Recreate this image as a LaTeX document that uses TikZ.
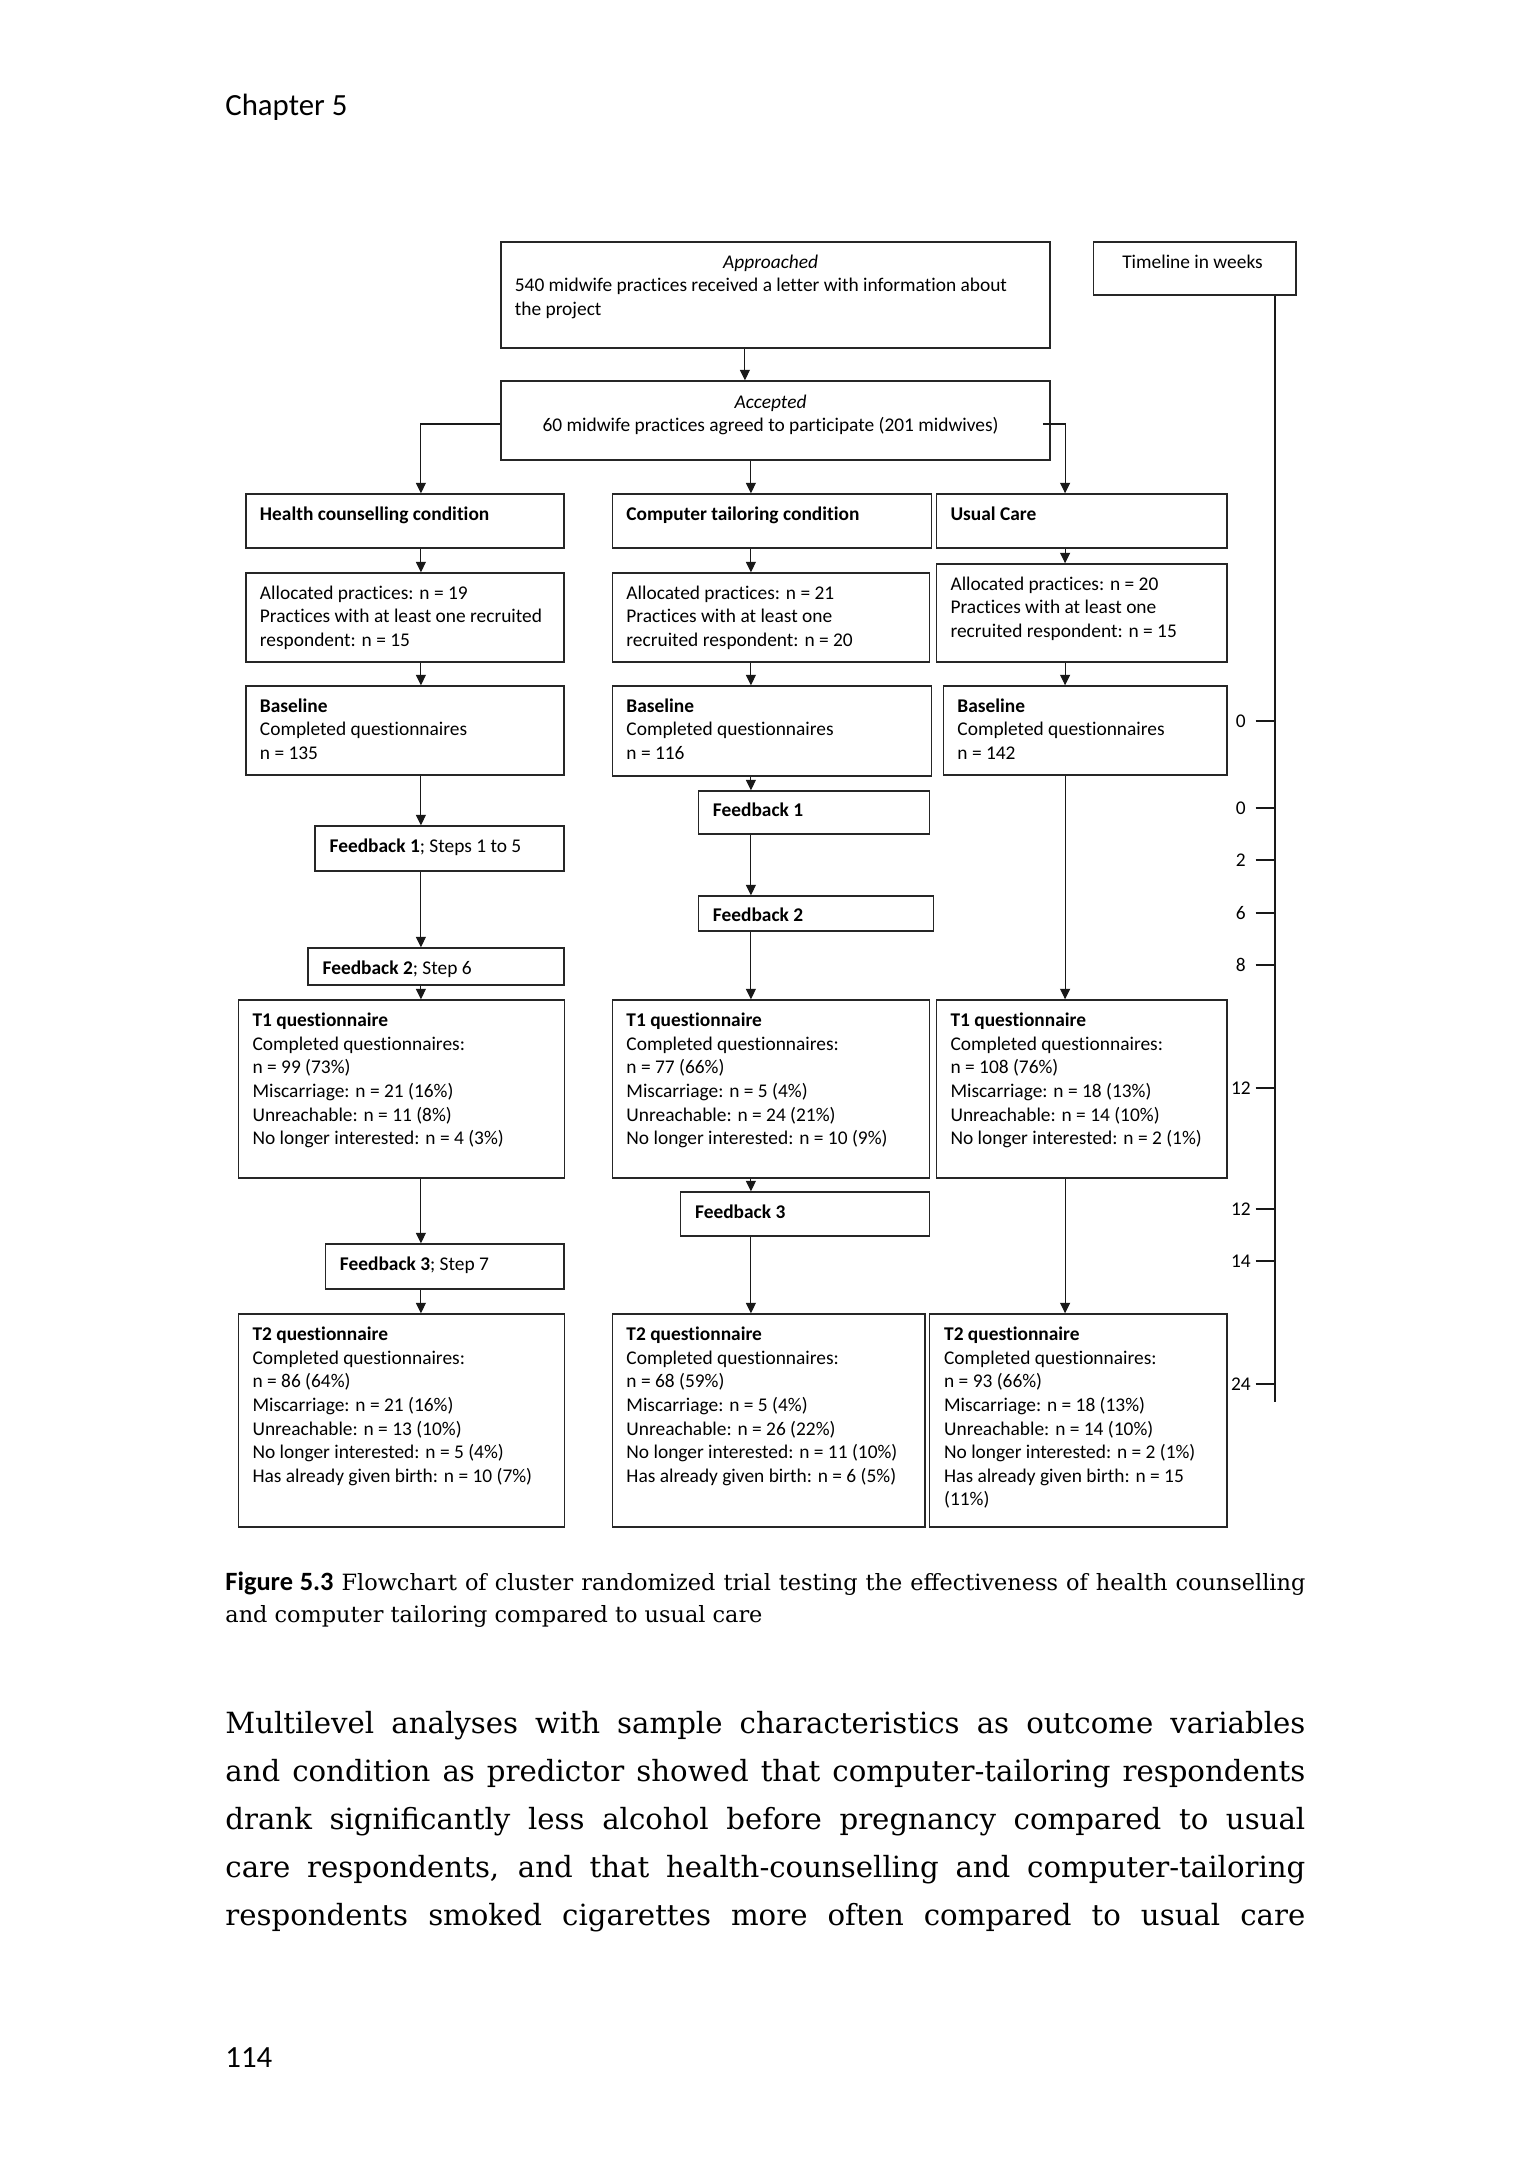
\documentclass[tikz,border=0pt]{standalone}
\usepackage{fontspec}
\setmainfont{Carlito}[Ligatures=NoCommon]
\newfontfamily\bookserif{DejaVu Serif}
\newfontfamily\capsans{Carlito}[Ligatures=NoCommon]
\usetikzlibrary{arrows.meta,fit}
\newcommand\bxfont{\fontsize{9.7}{11.8}\selectfont}
\begin{document}
\begin{tikzpicture}[x=0.5pt,y=-0.5pt,
  box/.style={draw=black!85, line width=0.75pt, inner sep=0pt},
  txt/.style={anchor=north west, inner sep=0pt, align=left, font=\bxfont},
  one/.style={inner sep=0pt, font=\bxfont},
  arr/.style={draw=black!90, line width=0.55pt, -{Triangle[length=5.2pt,width=5pt]}},
  tickline/.style={draw=black!90, line width=0.55pt},
  lbl/.style={inner sep=0pt, font=\bxfont, anchor=center},
  page/.style={inner sep=0pt, anchor=base west}]
\useasboundingbox (0,0) rectangle (1529,2160);
\fill[white] (0,0) rectangle (1529,2160);

% header and page number
\node[page, font=\capsans\fontsize{15.4}{19}\selectfont] (hdr) at (225,115.7) {Chapter 5};
\node[page, font=\capsans\fontsize{15.4}{19}\selectfont] (pnum) at (225,2067) {114};

% column coordinates
\coordinate (colH) at (420.9,0);
\coordinate (colA) at (744.9,0);
\coordinate (colC) at (750.9,0);
\coordinate (colU) at (1065.1,0);
\coordinate (accy) at (0,424);
\coordinate (tlx) at (1275,0);
\coordinate (tlend) at (1275,1402);

% boxes
\node[box, fit={(500.9,242) (1050.2,348)}] (app) {};
\node[box, fit={(1093.7,242) (1296.2,295)}] (tl) {};
\node[box, fit={(500.9,381) (1050.2,460)}] (acc) {};
\node[box, fit={(246,494) (564.1,548)}] (hc) {};
\node[box, fit={(612.5,494) (931.7,548)}] (ct) {};
\node[box, fit={(936.6,494) (1227.1,548)}] (uc) {};
\node[box, fit={(246,573) (564.1,662)}] (ahc) {};
\node[box, fit={(612.5,573) (929.7,662)}] (act) {};
\node[box, fit={(936.6,564) (1227.1,662)}] (auc) {};
\node[box, fit={(246,686) (564.1,775)}] (bhc) {};
\node[box, fit={(612.5,686) (931.7,776)}] (bct) {};
\node[box, fit={(943.5,686) (1227.1,775)}] (buc) {};
\node[box, fit={(315.2,826) (564.1,871)}] (fah) {};
\node[box, fit={(308.2,948) (564.1,985)}] (fbh) {};
\node[box, fit={(698.5,791) (929.7,834)}] (fac) {};
\node[box, fit={(698.5,896) (933.6,931)}] (fbc) {};
\node[box, fit={(238.6,1000) (564.6,1178)}] (tah) {};
\node[box, fit={(612.5,1000) (929.7,1178)}] (tac) {};
\node[box, fit={(936.6,1000) (1227.1,1178)}] (tau) {};
\node[box, fit={(325.5,1244) (564.1,1289)}] (fch) {};
\node[box, fit={(680.7,1192) (929.7,1236)}] (fcc) {};
\node[box, fit={(238.6,1314) (564.6,1527)}] (tbh) {};
\node[box, fit={(612.5,1314) (924.8,1527)}] (tbc) {};
\node[box, fit={(929.7,1314) (1227.1,1527)}] (tbu) {};

% texts
\node[one, anchor=base, font=\bxfont\itshape] (appt1) at (770.6,268) {Approached};
\node[txt] (appt2) at ([shift={(14.3,33.6)}]app.north west) {\strut 540 midwife practices received a letter with information about\\the project};
\node[one, anchor=base] (tlt) at (1192.5,268) {Timeline in weeks};
\node[one, anchor=base, font=\bxfont\itshape] (acct1) at (770.6,408.3) {Accepted};
\node[one, anchor=base] (acct2) at (770.6,431.7) {60 midwife practices agreed to participate (201 midwives)};

\node[txt] (hct) at ([shift={(14.3,10)}]hc.north west) {\strut\textbf{Health counselling condition}};
\node[txt] (ctt) at ([shift={(14.3,10)}]ct.north west) {\strut\textbf{Computer tailoring condition}};
\node[txt] (uct) at ([shift={(14.3,10)}]uc.north west) {\strut\textbf{Usual Care}};

\node[txt] (ahct) at ([shift={(14.3,10)}]ahc.north west) {\strut Allocated practices: n = 19\\Practices with at least one recruited\\respondent: n = 15};
\node[txt] (actt) at ([shift={(14.3,10)}]act.north west) {\strut Allocated practices: n = 21\\Practices with at least one\\recruited respondent: n = 20};
\node[txt] (auct) at ([shift={(14.3,10)}]auc.north west) {\strut Allocated practices: n = 20\\Practices with at least one\\recruited respondent: n = 15};

\node[txt] (bhct) at ([shift={(14.3,10)}]bhc.north west) {\strut\textbf{Baseline}\\Completed questionnaires\\n = 135};
\node[txt] (bctt) at ([shift={(14.3,10)}]bct.north west) {\strut\textbf{Baseline}\\Completed questionnaires\\n = 116};
\node[txt] (buct) at ([shift={(14.3,10)}]buc.north west) {\strut\textbf{Baseline}\\Completed questionnaires\\n = 142};

\node[txt] (faht) at ([shift={(14.8,10.5)}]fah.north west) {\strut\textbf{Feedback 1}; Steps 1 to 5};
\node[txt] (fbht) at ([shift={(14.8,10)}]fbh.north west) {\strut\textbf{Feedback 2}; Step 6};
\node[txt] (fact) at ([shift={(14.8,9.5)}]fac.north west) {\strut\textbf{Feedback 1}};
\node[txt] (fbct) at ([shift={(14.8,9.5)}]fbc.north west) {\strut\textbf{Feedback 2}};
\node[txt] (fcht) at ([shift={(14.8,10.5)}]fch.north west) {\strut\textbf{Feedback 3}; Step 7};
\node[txt] (fcct) at ([shift={(14.8,10.5)}]fcc.north west) {\strut\textbf{Feedback 3}};

\node[txt] (taht) at ([shift={(14.3,10.5)}]tah.north west) {\strut\textbf{T1 questionnaire}\\Completed questionnaires:\\n = 99 (73\%)\\Miscarriage: n = 21 (16\%)\\Unreachable: n = 11 (8\%)\\No longer interested: n = 4 (3\%)};
\node[txt] (tact) at ([shift={(14.3,10.5)}]tac.north west) {\strut\textbf{T1 questionnaire}\\Completed questionnaires:\\n = 77 (66\%)\\Miscarriage: n = 5 (4\%)\\Unreachable: n = 24 (21\%)\\No longer interested: n = 10 (9\%)};
\node[txt] (taut) at ([shift={(14.3,10.5)}]tau.north west) {\strut\textbf{T1 questionnaire}\\Completed questionnaires:\\n = 108 (76\%)\\Miscarriage: n = 18 (13\%)\\Unreachable: n = 14 (10\%)\\No longer interested: n = 2 (1\%)};

\node[txt] (tbht) at ([shift={(14.3,10.5)}]tbh.north west) {\strut\textbf{T2 questionnaire}\\Completed questionnaires:\\n = 86 (64\%)\\Miscarriage: n = 21 (16\%)\\Unreachable: n = 13 (10\%)\\No longer interested: n = 5 (4\%)\\Has already given birth: n = 10 (7\%)};
\node[txt] (tbct) at ([shift={(14.3,10.5)}]tbc.north west) {\strut\textbf{T2 questionnaire}\\Completed questionnaires:\\n = 68 (59\%)\\Miscarriage: n = 5 (4\%)\\Unreachable: n = 26 (22\%)\\No longer interested: n = 11 (10\%)\\Has already given birth: n = 6 (5\%)};
\node[txt] (tbut) at ([shift={(14.8,10.5)}]tbu.north west) {\strut\textbf{T2 questionnaire}\\Completed questionnaires:\\n = 93 (66\%)\\Miscarriage: n = 18 (13\%)\\Unreachable: n = 14 (10\%)\\No longer interested: n = 2 (1\%)\\Has already given birth: n = 15\\(11\%)};

% connectors
\draw[arr] (app.south -| colA) -- (acc.north -| colA);
\draw[arr] (acc.west |- accy) -| (hc.north -| colH);
\draw[arr] ([xshift=-4pt]acc.east |- accy) -| (uc.north -| colU);
\draw[arr] (acc.south -| colC) -- (ct.north -| colC);

\draw[arr] (hc.south -| colH) -- (ahc.north -| colH);
\draw[arr] (ct.south -| colC) -- (act.north -| colC);
\draw[arr] (uc.south -| colU) -- (auc.north -| colU);
\draw[arr] (ahc.south -| colH) -- (bhc.north -| colH);
\draw[arr] (act.south -| colC) -- (bct.north -| colC);
\draw[arr] (auc.south -| colU) -- (buc.north -| colU);

\draw[arr] (bhc.south -| colH) -- (fah.north -| colH);
\draw[arr] (fah.south -| colH) -- (fbh.north -| colH);
\draw[arr] (fbh.south -| colH) -- (tah.north -| colH);
\draw[arr] (tah.south -| colH) -- (fch.north -| colH);
\draw[arr] (fch.south -| colH) -- (tbh.north -| colH);

\draw[arr] (bct.south -| colC) -- (fac.north -| colC);
\draw[arr] (fac.south -| colC) -- (fbc.north -| colC);
\draw[arr] (fbc.south -| colC) -- (tac.north -| colC);
\draw[arr] (tac.south -| colC) -- (fcc.north -| colC);
\draw[arr] (fcc.south -| colC) -- (tbc.north -| colC);

\draw[arr] (buc.south -| colU) -- (tau.north -| colU);
\draw[arr] (tau.south -| colU) -- (tbu.north -| colU);

% timeline
\draw[tickline] (tl.south -| tlx) -- (tlend);
\foreach \yy/\ll in {721/0, 808/0, 860/2, 913/6, 965/8, 1088/12, 1209/12, 1261/14, 1384/24} {
  \draw[tickline] (1255.7,\yy) -- (1275,\yy);
  \node[lbl] (tick\yy) at (1240.9,\yy) {\ll};
}

% caption
\node[page] (cap1) at (225,1590) {\makebox[540pt][s]{{\capsans\bfseries\fontsize{13.2}{16}\selectfont Figure 5.3}\bookserif\fontsize{11.2}{16}\selectfont\ Flowchart of cluster randomized trial testing the effectiveness of health counselling}};
\node[page, font=\bookserif\fontsize{11.2}{16}\selectfont] (cap2) at (225,1622) {and computer tailoring compared to usual care};

% body text
\node[page, font=\bookserif\fontsize{14.6}{24}\selectfont] (body1) at (225,1733.8) {\makebox[540pt][s]{Multilevel analyses with sample characteristics as outcome variables}};
\node[page, font=\bookserif\fontsize{14.6}{24}\selectfont] (body2) at (225,1781.8) {\makebox[540pt][s]{and condition as predictor showed that computer-tailoring respondents}};
\node[page, font=\bookserif\fontsize{14.6}{24}\selectfont] (body3) at (225,1829.8) {\makebox[540pt][s]{drank significantly less alcohol before pregnancy compared to usual}};
\node[page, font=\bookserif\fontsize{14.6}{24}\selectfont] (body4) at (225,1877.8) {\makebox[540pt][s]{care respondents, and that health-counselling and computer-tailoring}};
\node[page, font=\bookserif\fontsize{14.6}{24}\selectfont] (body5) at (225,1925.8) {\makebox[540pt][s]{respondents smoked cigarettes more often compared to usual care}};
\end{tikzpicture}
\end{document}
